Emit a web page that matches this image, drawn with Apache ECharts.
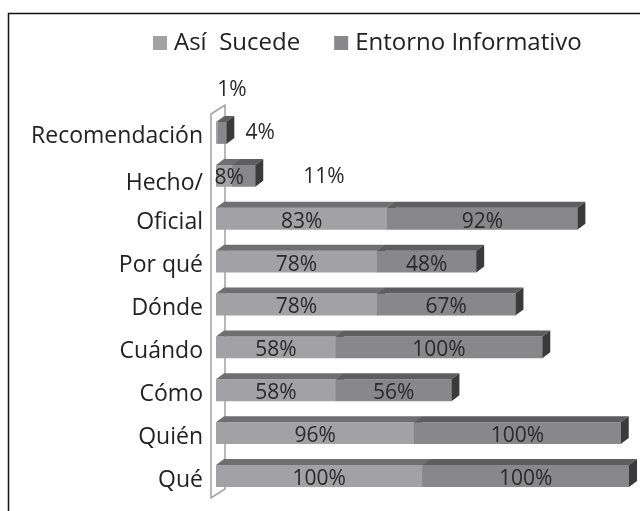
<!DOCTYPE html>
<html>
<head>
<meta charset="utf-8">
<script src="https://cdn.jsdelivr.net/npm/echarts@6/dist/echarts.min.js"></script>
<style>
  html, body { margin: 0; padding: 0; background: #fff; }
  #chart { width: 640px; height: 511px; }
</style>
</head>
<body>
<div id="chart"></div>
<script>
// categorias (de arriba hacia abajo)
var categorias = ['Recomendación', 'Hecho/', 'Oficial', 'Por qué', 'Dónde', 'Cuándo', 'Cómo', 'Quién', 'Qué'];
// Así Sucede (%)
var asiSucede = [1, 8, 83, 78, 78, 58, 58, 96, 100];
// Entorno Informativo (%)
var entorno = [4, 11, 92, 48, 67, 100, 56, 100, 100];

// etiquetas que Excel dejó fuera de su sitio: [serie, categoria] -> desplazamiento
var desplazaEtiqueta = {
  '0-0': [15, -46],
  '1-0': [38, -3],
  '0-1': [5, -1],
  '1-1': [80, -2]
};

var myChart = echarts.init(document.getElementById('chart'));

// colores de las caras: frontal, superior, lateral
var caras = [
  { front: '#a2a2a4', top: '#6f6f71', side: '#505052' },
  { front: '#88888a', top: '#5e5e60', side: '#3a3a3a' }
];
var dx = 8, dy = 6;

function hacerDatos(serie) {
  var out = [];
  for (var i = 0; i < categorias.length; i++) {
    var inicio = serie === 0 ? 0 : asiSucede[i];
    var v = serie === 0 ? asiSucede[i] : entorno[i];
    out.push([i, inicio, inicio + v, v]);
  }
  return out;
}

// barra con cara frontal, superior y lateral
function barra3d(serie) {
  return function (params, api) {
    var cat = api.value(0);
    var a = api.coord([api.value(1), cat]);
    var b = api.coord([api.value(2), cat]);
    var h = api.size([0, 1])[1] * 0.51;
    var y = a[1] - h / 2;
    var c = caras[serie];
    return {
      type: 'group',
      children: [
        { type: 'rect', shape: { x: a[0], y: y, width: b[0] - a[0], height: h }, style: { fill: c.front } },
        { type: 'polygon', shape: { points: [[a[0], y], [a[0] + dx, y - dy], [b[0] + dx, y - dy], [b[0], y]] }, style: { fill: c.top } },
        { type: 'polygon', shape: { points: [[b[0], y], [b[0] + dx, y - dy], [b[0] + dx, y + h - dy], [b[0], y + h]] }, style: { fill: c.side } }
      ]
    };
  };
}

// etiquetas encima de todas las barras
function etiqueta(serie) {
  return function (params, api) {
    var cat = api.value(0);
    var a = api.coord([api.value(1), cat]);
    var b = api.coord([api.value(2), cat]);
    var off = desplazaEtiqueta[serie + '-' + cat] || [0, 0];
    return {
      type: 'text',
      style: {
        text: api.value(3) + '%',
        x: (a[0] + b[0]) / 2 + off[0],
        y: a[1] + 3 + off[1],
        align: 'center',
        verticalAlign: 'middle',
        fill: '#2a2a2a',
        font: '21px "Open Sans"'
      }
    };
  };
}

var option = {
  animation: false,
  textStyle: { fontFamily: 'Open Sans' },
  legend: {
    top: 26,
    left: 148,
    itemWidth: 14,
    itemHeight: 14,
    itemGap: 34,
    icon: 'rect',
    textStyle: { fontSize: 24, color: '#222', fontFamily: 'Open Sans', padding: [0, 0, 0, 2] },
    data: [
      { name: 'Así  Sucede', itemStyle: { color: caras[0].front } },
      { name: 'Entorno Informativo', itemStyle: { color: caras[1].front } }
    ]
  },
  grid: { left: 216, right: 11, top: 111.5, bottom: 13.5 },
  xAxis: { type: 'value', min: 0, max: 200, show: false },
  yAxis: {
    type: 'category',
    inverse: true,
    data: categorias,
    axisLine: { show: false },
    axisTick: { show: false },
    axisLabel: {
      fontSize: 23,
      color: '#222',
      margin: 13,
      fontFamily: 'Open Sans',
      padding: [8, 0, 0, 0],
      formatter: function (v) { return v === 'Hecho/' ? '{h|' + v + '}' : v; },
      rich: { h: { fontSize: 23, color: '#222', fontFamily: 'Open Sans', padding: [8, 0, 0, 0] } }
    }
  },
  // pared 3D a la izquierda y marco exterior
  graphic: [
    { type: 'rect', shape: { x: 8.5, y: 13.5, width: 700, height: 600 }, style: { fill: 'none', stroke: '#111', lineWidth: 1.5 }, z: -10 },
    { type: 'polygon', shape: { points: [[211, 498], [211, 114], [225, 105], [225, 489]] }, style: { fill: '#fff', stroke: '#a0a0a0', lineWidth: 1.5 }, z: -5 }
  ],
  series: [
    { name: 'Así  Sucede', type: 'custom', renderItem: barra3d(0), data: hacerDatos(0), itemStyle: { color: caras[0].front }, z: 2 },
    { name: 'Entorno Informativo', type: 'custom', renderItem: barra3d(1), data: hacerDatos(1), itemStyle: { color: caras[1].front }, z: 3 },
    { name: 'etiquetas1', type: 'custom', renderItem: etiqueta(0), data: hacerDatos(0), z: 6, silent: true },
    { name: 'etiquetas2', type: 'custom', renderItem: etiqueta(1), data: hacerDatos(1), z: 6, silent: true }
  ]
};

myChart.setOption(option);
</script>
</body>
</html>
